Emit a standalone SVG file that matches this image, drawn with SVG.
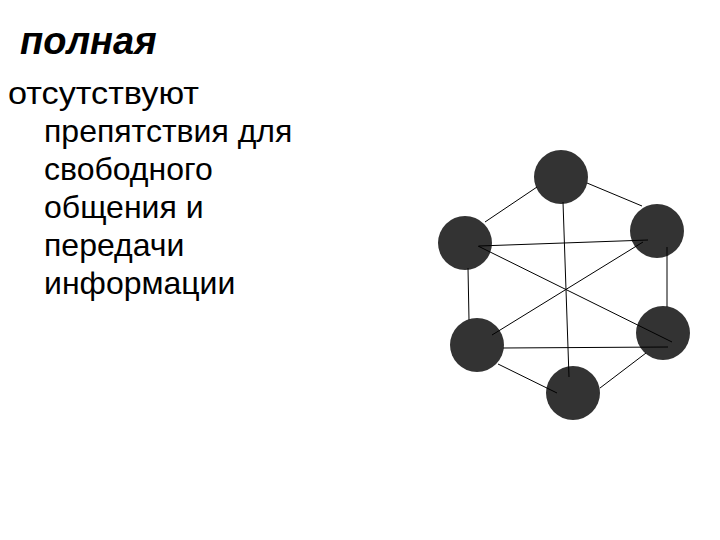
<svg xmlns="http://www.w3.org/2000/svg" width="720" height="540" viewBox="0 0 720 540">
<style>
.t{font-family:"Liberation Sans",Arial,sans-serif;fill:#000}
.n{fill:#333333}
.c line{stroke:#000;stroke-width:1}
</style>
<rect width="720" height="540" fill="#fff"/>
<text class="t" x="20" y="54" font-size="38" font-weight="bold" font-style="italic">полная</text>
<g class="t" font-size="32">
<text x="8" y="104" textLength="191" lengthAdjust="spacingAndGlyphs">отсутствуют</text>
<text x="44" y="142">препятствия для</text>
<text x="44" y="180">свободного</text>
<text x="44" y="218">общения и</text>
<text x="44" y="256">передачи</text>
<text x="44" y="294">информации</text>
</g>
<g id="n1"><circle class="n" cx="561" cy="177" r="27"/></g>
<g id="n2"><circle class="n" cx="465" cy="243" r="27"/></g>
<g id="n3"><circle class="n" cx="657" cy="231" r="27"/></g>
<g id="n4"><circle class="n" cx="477" cy="345" r="27"/></g>
<g id="n5"><circle class="n" cx="663" cy="333" r="27"/></g>
<g id="n6"><circle class="n" cx="573" cy="393" r="27"/></g>
<g class="c" id="connectors">
<line x1="537" y1="187" x2="485" y2="222"/>
<line x1="587" y1="183" x2="642" y2="206"/>
<line x1="563" y1="202" x2="569" y2="377"/>
<line x1="479" y1="246" x2="648" y2="240"/>
<line x1="478" y1="246" x2="672" y2="342"/>
<line x1="468" y1="268" x2="469" y2="320"/>
<line x1="667" y1="247" x2="667" y2="307"/>
<line x1="643" y1="242" x2="492" y2="335"/>
<line x1="503" y1="348" x2="668" y2="347"/>
<line x1="498" y1="364" x2="557" y2="393"/>
<line x1="646" y1="353" x2="600" y2="388"/>
</g>
</svg>
